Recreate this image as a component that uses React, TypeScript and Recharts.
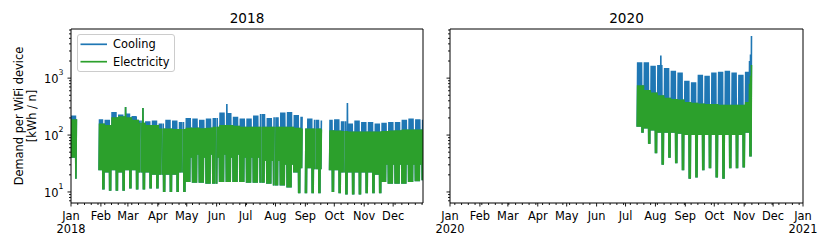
import React from 'react';
import { LineChart, Line, XAxis, YAxis } from 'recharts';

const FONT = '"DejaVu Sans", Verdana, sans-serif';
const BLUE = '#1f77b4';
const GREEN = '#2ca02c';

const seriesNames = ['Cooling', 'Electricity'];
const panelTitles = ['2018', '2020'];
const monthLabels = ['Jan', 'Feb', 'Mar', 'Apr', 'May', 'Jun', 'Jul', 'Aug', 'Sep', 'Oct', 'Nov', 'Dec'];
const yAxisLabelLines = ['Demand per WiFi device', '[kWh / n]'];
const yMajorTicks = [10, 100, 1000];

// ---- 2018: weekly readings, weeks start Monday 2018-01-01 ----
const weekStart2018 = '2018-01-01';
const lastDay2018 = '2018-12-31';
const coolingHigh2018 = [
  220, null, null, null, 190, 185, 255, 230, 240, 215,
  180, 175, 180, 160, 185, 180, 170, 200, 195, 185,
  195, 200, 250, 245, 210, 195, 195, 220, 235, 200,
  205, 250, 255, 225, 210, 195, 185, 180, 185, 190,
  175, 160, 180, 170, 170, 160, 165, 170, 170, 185,
  195, 190, 185,
];
const electricityHigh2018 = [
  190, null, null, null, 160, 150, 205, 215, 205, 185,
  165, 150, 150, 130, 130, 128, 128, 135, 135, 132,
  135, 140, 150, 150, 145, 140, 140, 140, 140, 140,
  140, 140, 140, 135, 130, 130, 130, 125, 122, 120,
  118, 115, 115, 115, 115, 115, 118, 120, 122, 125,
  125, 125, 125,
];
const weekdayLow2018 = [
  40, null, null, null, 24, 22, 24, 22, 24, 24,
  22, 22, 20, 20, 20, 20, 22, 15, 14.5, 14.5,
  14, 14, 15, 15, 15, 15, 14.5, 14.5, 14.5, 14,
  13, 13, 12, 22, 26, 26, 25, 25, 24, 24,
  22, 22, 22, 22, 22, 20, 15, 14, 14, 14,
  15, 15.5, 16,
];
const weekendLow2018 = [
  17, null, null, null, 11, 10.5, 10.5, 10.5, 11.5, 11,
  11, 11.5, 11.5, 10, 10, 10, 10, 40, 45, 40,
  45, 40, 45, 40, 45, 40, 40, 40, 35, 35,
  35, 30, 30, 9.5, 9.5, 9.5, 9.5, 9.5, 10, 9.5,
  9, 9, 9, 9.5, 9.5, 9.5, 30, 30, 30, 30,
  30, 30, 30,
];
const missing2018 = [
  ['2018-01-07', '2018-01-29'],
  ['2018-03-14', '2018-03-14'],
  ['2018-04-05', '2018-04-05'],
  ['2018-04-26', '2018-04-26'],
  ['2018-05-31', '2018-05-31'],
  ['2018-07-17', '2018-07-17'],
  ['2018-07-31', '2018-07-31'],
  ['2018-08-29', '2018-08-31'],
  ['2018-09-11', '2018-09-11'],
  ['2018-09-18', '2018-09-25'],
  ['2018-10-11', '2018-10-11'],
];
const peaks2018 = [
  { date: '2018-02-26', cool: 310, elec: 310 },
  { date: '2018-03-16', cool: 300, elec: 300 },
  { date: '2018-06-11', cool: 350 },
  { date: '2018-10-14', cool: 365 },
];

// ---- 2020: weekly readings, weeks start Monday 2020-07-13 ----
const weekStart2020 = '2020-07-13';
const lastDay2020 = '2020-11-08';
const coolingHigh2020 = [1900, 1900, 1650, 1700, 1500, 1350, 1250, 900, 850, 1150, 1100, 1250, 1300, 1350, 1250, 1150, 1300];
const electricityHigh2020 = [750, 620, 560, 500, 450, 430, 420, 380, 370, 360, 350, 350, 340, 340, 340, 340, 380];
const weekdayLow2020 = [140, 130, 120, 110, 110, 110, 105, 100, 100, 100, 100, 100, 100, 100, 100, 100, 110];
const weekendLow2020 = [110, 70, 48, 30, 40, 32, 24, 17, 18, 24, 26, 18, 17, 26, 26, 27, 42];
const missing2020: string[][] = [];
const peaks2020 = [
  { date: '2020-08-06', cool: 2500 },
  { date: '2020-11-06', cool: 2000, elec: 800 },
  { date: '2020-11-07', cool: 2600, elec: 1100 },
  { date: '2020-11-08', cool: 5500, elec: 1700 },
];

const DAY = 86400000;
const HOUR = 3600000;
const parse = (s: string) => {
  const [y, m, d] = s.split('-').map(Number);
  return Date.UTC(y, m - 1, d);
};

type Peak = { date: string; cool?: number; elec?: number };
function buildSeries(
  start: string, last: string,
  coolHi: (number | null)[], elecHi: (number | null)[],
  lo: (number | null)[], wk: (number | null)[],
  missing: string[][], peaks: Peak[],
) {
  const t0 = parse(start);
  const tEnd = parse(last);
  const miss = missing.map(([a, b]) => [parse(a), parse(b)]);
  const peakMap = new Map(peaks.map((p) => [parse(p.date), p]));
  const rows: { t: number; cool: number | null; elec: number | null }[] = [];
  for (let d = 0; t0 + d * DAY <= tEnd; d++) {
    const w = Math.floor(d / 7);
    const dow = d % 7;
    const day = t0 + d * DAY;
    const off = coolHi[w] == null || miss.some(([a, b]) => day >= a && day <= b);
    if (off) {
      rows.push({ t: day + 2 * HOUR, cool: null, elec: null });
      rows.push({ t: day + 14 * HOUR, cool: null, elec: null });
      continue;
    }
    const weekend = dow >= 5;
    const night = (weekend ? wk[w] : lo[w]) as number;
    const pk = peakMap.get(day);
    const cDay = pk?.cool ?? ((weekend ? elecHi[w] : coolHi[w]) as number);
    const eDay = pk?.elec ?? (elecHi[w] as number);
    rows.push({ t: day + 2 * HOUR, cool: night, elec: night });
    rows.push({ t: day + 14 * HOUR, cool: cDay, elec: eDay });
  }
  return rows;
}

const data2018 = buildSeries(weekStart2018, lastDay2018, coolingHigh2018, electricityHigh2018, weekdayLow2018, weekendLow2018, missing2018, peaks2018);
const data2020 = buildSeries(weekStart2020, lastDay2020, coolingHigh2020, electricityHigh2020, weekdayLow2020, weekendLow2020, missing2020, peaks2020);

const Y_DOMAIN: [number, number] = [6.4, 7300];
const yAllTicks: number[] = [];
for (const dec of [1, 10, 100, 1000]) {
  for (let k = 1; k <= 9; k++) {
    const v = k * dec;
    if (v >= Y_DOMAIN[0] && v <= Y_DOMAIN[1]) yAllTicks.push(v);
  }
}

function monthStarts(year: number, withNext: boolean) {
  const out: number[] = [];
  for (let m = 0; m < 12; m++) out.push(Date.UTC(year, m, 1));
  if (withNext) out.push(Date.UTC(year + 1, 0, 1));
  return out;
}
function allXTicks(year: number, firstMonday: number, end: number, withNext: boolean) {
  const majors = monthStarts(year, withNext);
  const set = new Set(majors);
  const out = [...majors];
  for (let t = Date.UTC(year, 0, firstMonday); t <= end; t += 7 * DAY) {
    if (!set.has(t)) out.push(t);
  }
  return out.sort((a, b) => a - b);
}

const dom2018: [number, number] = [Date.UTC(2018, 0, 1), Date.UTC(2018, 11, 31, 23)];
const dom2020: [number, number] = [Date.UTC(2020, 0, 1), Date.UTC(2021, 0, 1)];

const XTick = (props: any) => {
  const { x, y, payload } = props;
  const d = new Date(payload.value);
  const major = d.getUTCDate() === 1;
  const m = d.getUTCMonth();
  return (
    <g>
      <line x1={x} x2={x} y1={y} y2={y + (major ? 3.5 : 2)} stroke="#000" strokeWidth={0.9} />
      {major && (
        <text x={x} y={y + 16.5} textAnchor="middle" fontSize={11.4} fontFamily={FONT} fill="#000">
          {monthLabels[m]}
        </text>
      )}
      {major && m === 0 && (
        <text x={x} y={y + 29.5} textAnchor="middle" fontSize={11.4} fontFamily={FONT} fill="#000">
          {d.getUTCFullYear()}
        </text>
      )}
    </g>
  );
};

const makeYTick = (showLabels: boolean) => (props: any) => {
  const { x, y, payload } = props;
  const lg = Math.log10(payload.value);
  const major = yMajorTicks.includes(payload.value);
  return (
    <g>
      <line x1={x} x2={x - (major ? 3.5 : 2)} y1={y} y2={y} stroke="#000" strokeWidth={0.9} />
      {major && showLabels && (
        <text x={x - 7.5} y={y + 5} textAnchor="end" fontSize={11.4} fontFamily={FONT} fill="#000">
          <tspan>10</tspan>
          <tspan dy={-8.3} fontSize={7.8}>{Math.round(lg)}</tspan>
        </text>
      )}
    </g>
  );
};

function Panel({ data, domain, xticks, showYLabels, width, margin }: any) {
  return (
    <LineChart width={width} height={249} data={data} margin={margin}>
      <XAxis
        xAxisId="main" dataKey="t" type="number" scale="linear" domain={domain} allowDataOverflow
        ticks={xticks} interval={0} tick={XTick} tickSize={0} tickMargin={0}
        tickLine={false} axisLine={{ stroke: '#000' }} height={1}
      />
      <XAxis
        xAxisId="top" orientation="top" dataKey="t" type="number" domain={domain} allowDataOverflow
        tick={false} tickLine={false} axisLine={{ stroke: '#000' }} height={1}
      />
      <YAxis
        yAxisId="main" type="number" scale="log" domain={Y_DOMAIN} allowDataOverflow
        ticks={yAllTicks} interval={0} tick={makeYTick(showYLabels)}
        tickSize={0} tickMargin={0} tickLine={false} axisLine={{ stroke: '#000' }} width={1}
      />
      <YAxis
        yAxisId="right" orientation="right" type="number" scale="log" domain={Y_DOMAIN} allowDataOverflow
        tick={false} tickLine={false} axisLine={{ stroke: '#000' }} width={1}
      />
      <Line
        xAxisId="main" yAxisId="main" type="linear" dataKey="cool" name={seriesNames[0]}
        stroke={BLUE} strokeWidth={1.6} dot={false} isAnimationActive={false} connectNulls={false}
      />
      <Line
        xAxisId="main" yAxisId="main" type="linear" dataKey="elec" name={seriesNames[1]}
        stroke={GREEN} strokeWidth={1.6} dot={false} isAnimationActive={false} connectNulls={false}
      />
    </LineChart>
  );
}

export default function App() {
  return (
    <div style={{ position: 'absolute', left: 0, top: 0, width: 830, height: 249, background: '#fff', overflow: 'hidden' }}>
      <div style={{ position: 'absolute', left: 0, top: 0 }}>
        <Panel
          data={data2018} domain={dom2018} xticks={allXTicks(2018, 8, dom2018[1], false)}
          showYLabels width={430}
          margin={{ top: 28, right: 6, bottom: 45, left: 70 }}
        />
      </div>
      <div style={{ position: 'absolute', left: 430, top: 0 }}>
        <Panel
          data={data2020} domain={dom2020} xticks={allXTicks(2020, 6, dom2020[1], true)}
          showYLabels={false} width={400}
          margin={{ top: 28, right: 26, bottom: 45, left: 19 }}
        />
      </div>
      <svg width={830} height={249} style={{ position: 'absolute', left: 0, top: 0, pointerEvents: 'none' }}>
        <text x={247} y={22.7} textAnchor="middle" fontSize={13.6} fontFamily={FONT} fill="#000">{panelTitles[0]}</text>
        <text x={626.5} y={22.7} textAnchor="middle" fontSize={13.6} fontFamily={FONT} fill="#000">{panelTitles[1]}</text>
        <text transform="rotate(-90)" x={-116} y={22.8} textAnchor="middle" fontSize={11.4} fontFamily={FONT} fill="#000">{yAxisLabelLines[0]}</text>
        <text transform="rotate(-90)" x={-116} y={36.3} textAnchor="middle" fontSize={11.4} fontFamily={FONT} fill="#000">{yAxisLabelLines[1]}</text>
        <rect x={77.5} y={34.5} width={97} height={37} rx={2.5} fill="#fff" fillOpacity={0.8} stroke="#cccccc" strokeWidth={1} />
        <line x1={80.5} x2={107} y1={44.3} y2={44.3} stroke={BLUE} strokeWidth={1.7} />
        <text x={113} y={48.4} fontSize={11.4} fontFamily={FONT} fill="#000">{seriesNames[0]}</text>
        <line x1={80.5} x2={107} y1={61.7} y2={61.7} stroke={GREEN} strokeWidth={1.7} />
        <text x={113} y={65.8} fontSize={11.4} fontFamily={FONT} fill="#000">{seriesNames[1]}</text>
      </svg>
    </div>
  );
}
